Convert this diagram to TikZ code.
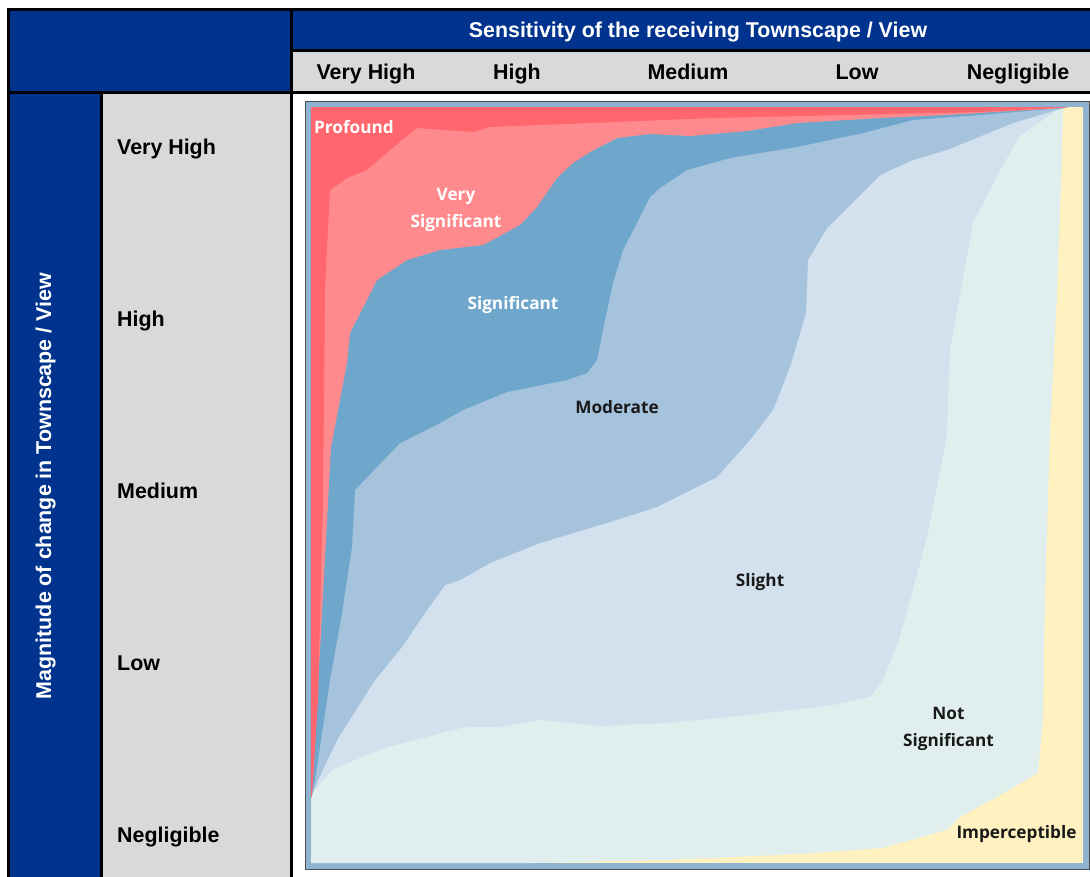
\documentclass[tikz,border=0pt]{standalone}
\usepackage{fontspec}
\setmainfont{Liberation Sans}
\newfontfamily\zonefont{Open Sans}
\definecolor{hdrblue}{RGB}{0,51,141}
\definecolor{cellgray}{RGB}{217,217,217}
\definecolor{framebg}{RGB}{143,180,210}
\definecolor{zprofound}{RGB}{255,102,110}
\definecolor{zverysig}{RGB}{255,138,141}
\definecolor{zsig}{RGB}{111,166,203}
\definecolor{zmoderate}{RGB}{165,195,220}
\definecolor{zslight}{RGB}{211,225,238}
\definecolor{znotsig}{RGB}{224,239,238}
\definecolor{zimperc}{RGB}{255,241,192}
\begin{document}
\begin{tikzpicture}[x=1pt,y=-1pt,every node/.style={inner sep=0pt,font=\fontsize{21.4}{25}\selectfont\bfseries},
  hdrlabel/.style={anchor=base,text=white},
  collabel/.style={anchor=base},
  rowlabel/.style={anchor=base west},
  zonelabel/.style={font=\zonefont\fontsize{17.2}{27}\selectfont\bfseries,align=center,text=black!90}]
\useasboundingbox (0,0) rectangle (1090,876);
\clip (0,0) rectangle (1090,876);
\fill[hdrblue] (8,9) rectangle (1095,50); \fill[hdrblue] (8,9) rectangle (291,92); \fill[hdrblue] (8,92) rectangle (101,880);
\fill[cellgray] (291,50) rectangle (1095,92); \fill[cellgray] (101,92) rectangle (291,880);
\draw[line width=3pt] (8,9) rectangle (1095,880);
\draw[line width=3pt] (291,9)--(291,880); \draw[line width=3pt] (291,50)--(1095,50);
\draw[line width=3pt] (8,92)--(1095,92); \draw[line width=3pt] (101,92)--(101,880);

\draw[black!70,fill=framebg] (305,101) rectangle (1089,869);
\fill[zimperc] (311,107) rectangle (1083,863);
\fill[znotsig] (311,107) -- (1064,107) -- (1063,110) -- (1062,157) -- (1057,295) -- (1050,433) -- (1045,600) -- (1043,720) -- (1038,773) -- (997,797) -- (960,817) -- (947,830) -- (900,843) -- (883,848) -- (800,854) -- (667,860) -- (533,863) -- (311,863) -- cycle;
\fill[zslight] (311,107) -- (1068,107) -- (1057,110) -- (1020,136) -- (1000,170) -- (973,223) -- (960,295) -- (950,350) -- (947,433) -- (943,457) -- (928,533) -- (912,593) -- (898,643) -- (883,680) -- (870,697) -- (833,705) -- (767,713) -- (667,723) -- (600,726) -- (540,720) -- (500,727) -- (465,727) -- (388,747) -- (355,760) -- (332,770) -- (312,793) -- (311,798) -- cycle;
\fill[zmoderate] (311,107) -- (1068,107) -- (1057,110) -- (1013,123) -- (947,150) -- (913,160) -- (880,175) -- (855,200) -- (827,228) -- (808,260) -- (806,313) -- (790,367) -- (773,410) -- (750,440) -- (717,477) -- (657,507) -- (607,523) -- (540,543) -- (490,563) -- (460,580) -- (445,585) -- (425,613) -- (402,647) -- (375,680) -- (337,740) -- (318,780) -- (311,798) -- cycle;
\fill[zsig] (311,107) -- (1068,107) -- (1063,108) -- (980,115) -- (913,120) -- (863,133) -- (797,147) -- (730,158) -- (687,170) -- (660,188) -- (650,197) -- (623,250) -- (613,283) -- (603,330) -- (597,360) -- (587,373) -- (567,380) -- (507,392) -- (463,410) -- (440,423) -- (400,443) -- (355,490) -- (352,547) -- (342,613) -- (330,680) -- (315,780) -- (311,798) -- cycle;
\fill[zverysig] (311,107) -- (1068,107) -- (1063,108) -- (947,115) -- (880,118) -- (797,123) -- (747,131) -- (690,136) -- (650,134) -- (617,138) -- (590,152) -- (573,163) -- (557,178) -- (537,207) -- (520,225) -- (483,245) -- (440,250) -- (407,260) -- (377,280) -- (350,333) -- (347,363) -- (331,447) -- (322,613) -- (313,780) -- (311,798) -- cycle;
\fill[zprofound] (311,107) -- (1068,107) -- (1063,107.5) -- (980,112) -- (847,115) -- (713,118) -- (590,123) -- (490,127) -- (473,132) -- (417,128) -- (390,150) -- (367,170) -- (347,178) -- (330,190) -- (325,290) -- (323,500) -- (318,700) -- (312,795) -- (311,798) -- cycle;

\node[hdrlabel](sens) at (698,37.5) {Sensitivity of the receiving Townscape / View};
\node[collabel](svhigh) at (366,79.5) {Very High};
\node[collabel](shigh) at (517,79.5) {High};
\node[collabel](smed) at (688,79.5) {Medium};
\node[collabel](slow) at (857,79.5) {Low};
\node[collabel](sneg) at (1018,79.5) {Negligible};

\node[hdrlabel,rotate=90](mag) at (51,486) {Magnitude of change in Townscape / View};
\node[rowlabel](mvhigh) at (117,154.5) {Very High};
\node[rowlabel](mhigh) at (117,326.5) {High};
\node[rowlabel](mmed) at (117,498.5) {Medium};
\node[rowlabel](mlow) at (117,670.5) {Low};
\node[rowlabel](mneg) at (117,842.5) {Negligible};

\node[zonelabel,anchor=base,text=white](profound) at (354,133) {Profound};
\node[zonelabel,text=white](verysig) at (456,209.5) {Very\\Significant};
\node[zonelabel,anchor=base,text=white](sig) at (513,309) {Significant};
\node[zonelabel,anchor=base](moderate) at (617,413) {Moderate};
\node[zonelabel,anchor=base](slight) at (760,586) {Slight};
\node[zonelabel](notsig) at (948.5,728.5) {Not\\Significant};
\node[zonelabel,anchor=base](imperc) at (1016.5,838) {Imperceptible};
\end{tikzpicture}
\end{document}
